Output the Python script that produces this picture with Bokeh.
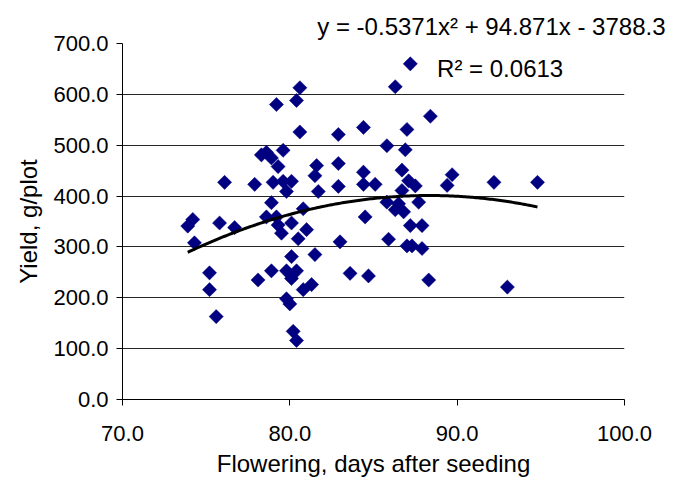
import numpy as np
from bokeh.plotting import figure
from bokeh.models import FixedTicker, NumeralTickFormatter, Label, Range1d
from bokeh.embed import file_html
from bokeh.resources import INLINE

flowering_days = [74.2, 73.9, 74.3, 75.8, 76.7, 75.2, 75.2, 75.6, 76.1, 77.9,
                  78.1, 78.3, 78.6, 78.9, 79.6, 79.3, 79.2, 80.6, 80.4, 80.6,
                  79.0, 79.6, 80.1, 79.8, 78.9, 80.8, 78.6, 79.2, 79.3, 79.5,
                  80.1, 81.0, 80.5, 80.1, 79.8, 80.4, 80.1, 78.9, 80.8, 81.3,
                  81.5, 79.8, 80.0, 80.2, 80.4, 81.6, 81.5, 81.7, 82.9, 82.9,
                  82.9, 83.0, 83.6, 84.4, 84.4, 84.4, 84.5, 84.7, 85.1, 85.8,
                  85.8, 86.3, 87.2, 87.0, 86.9, 86.7, 87.1, 87.5, 86.7, 87.7,
                  86.5, 86.3, 86.8, 85.9, 87.2, 87.9, 87.0, 87.3, 87.9, 88.3,
                  88.4, 89.7, 89.4, 92.2, 94.8, 93.0]
yield_g = [354, 341, 308, 347, 338, 249, 216, 163, 427, 423,
           235, 481, 486, 475, 490, 458, 580, 613, 588, 526,
           427, 429, 429, 409, 387, 375, 359, 359, 343, 327,
           347, 334, 316, 281, 253, 253, 238, 253, 216, 226,
           285, 198, 188, 134, 116, 460, 440, 409, 521, 464,
           419, 310, 248, 535, 447, 423, 359, 243, 423, 499,
           388, 615, 660, 531, 491, 451, 430, 420, 411, 388,
           385, 373, 369, 315, 342, 342, 302, 302, 297, 235,
           557, 442, 421, 427, 427, 221]

# trendline coefficients as printed on the chart (a*x^2 + b*x + c)
trend_coeffs = [-0.5371, 94.871, -3788.3]
x_ticks = [70, 80, 90, 100]
y_ticks = [0, 100, 200, 300, 400, 500, 600, 700]
equation_text = "y = -0.5371x\u00b2 + 94.871x - 3788.3"
r2_text = "R\u00b2 = 0.0613"

FONT = "Liberation Sans"

p = figure(width=667, height=483, output_backend="svg", toolbar_location=None,
           x_range=Range1d(70, 100), y_range=Range1d(0, 700),
           min_border_left=122, min_border_right=43, min_border_top=43,
           min_border_bottom=84)
p.outline_line_color = None
p.background_fill_color = "white"

# trendline equation shown above the plot area, right aligned
p.title.text = equation_text
p.title.text_font = FONT
p.title.text_font_size = "24px"
p.title.text_font_style = "normal"
p.title.text_color = "black"
p.title.align = "right"
p.title.offset = -41
p.title.standoff = 7

p.xgrid.visible = False
p.ygrid.grid_line_color = "black"
p.ygrid.grid_line_alpha = 0.85
p.ygrid.grid_line_width = 1

for ax in (p.xaxis[0], p.yaxis[0]):
    ax.axis_line_color = "black"
    ax.major_tick_line_color = "black"
    ax.major_tick_in = 0
    ax.major_tick_out = 6
    ax.minor_tick_line_color = None
    ax.major_label_text_font = FONT
    ax.major_label_text_font_size = "22px"
    ax.major_label_text_color = "black"
    ax.axis_label_text_font = FONT
    ax.axis_label_text_font_size = "24px"
    ax.axis_label_text_font_style = "normal"
    ax.axis_label_text_color = "black"
    ax.formatter = NumeralTickFormatter(format="0.0")

p.xaxis.ticker = FixedTicker(ticks=x_ticks)
p.yaxis.ticker = FixedTicker(ticks=y_ticks)
p.xaxis.axis_label = "Flowering, days after seeding"
p.yaxis.axis_label = "Yield, g/plot"
p.xaxis.major_label_standoff = 20
p.xaxis.axis_label_standoff = 6
p.yaxis.major_label_standoff = 8
p.yaxis.axis_label_standoff = 8

p.scatter(flowering_days, yield_g, marker="square", size=10, angle=np.pi / 4,
          fill_color="#000080", line_color="#000080", line_width=0.5)

xs = np.linspace(min(flowering_days), max(flowering_days), 200)
a, b, c = trend_coeffs
ys = a * xs ** 2 + b * xs + c
p.line(xs, ys, line_color="black", line_width=3)

p.add_layout(Label(x=88.8, y=651, text=r2_text, text_font=FONT,
                   text_font_size="24px", text_color="black",
                   text_baseline="alphabetic", text_align="left"))

open("out.html", "w").write(file_html(p, INLINE))
